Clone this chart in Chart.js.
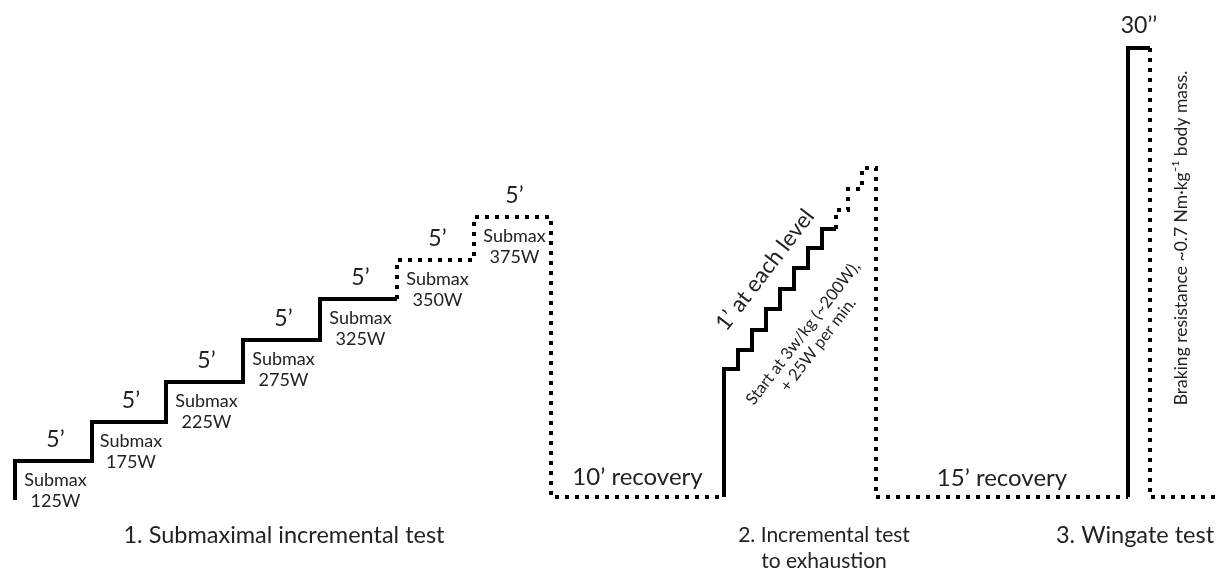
<!DOCTYPE html>
<html>
<head>
<meta charset="utf-8">
<script src="https://cdn.jsdelivr.net/npm/chart.js@4"></script>
<style>
  body { margin: 0; background: #fff; }
</style>
</head>
<body>
<canvas id="chart" width="1219" height="576"></canvas>
<script>
// schematic units: time along x, work-load level (above resting line) along y

// 1. submaximal incremental test
const stage1Watts = ["125W", "175W", "225W", "275W", "325W", "350W", "375W"];
const stage1Start = [15, 92, 166, 243, 320, 397, 474];
const stage1End = 551;
const stage1Level = [36, 75, 115, 157, 198, 237, 280];
const stage1Solid = 5; // steps drawn solid, the rest dotted
const stage1Minutes = "5’";

// 2. incremental test to exhaustion
const stage2Start = [724, 738, 752, 766, 780, 794, 808, 822, 836, 848, 862];
const stage2End = 876;
const stage2Level = [128, 147, 167, 188, 208, 229, 249, 268, 287, 308, 329];
const stage2Solid = 8;

// 3. wingate
const wingateStart = 1128;
const wingateEnd = 1150;
const wingateLevel = 449;
const restEnd = 1215;

const phaseTitles = [["1. Submaximal incremental test"], ["2. Incremental test", "to exhaustion"], ["3. Wingate test"]];
const recoveryLabels = ["10’ recovery", "15’ recovery"];

// build step polylines from the arrays
function steps(starts, end, levels, from, to) {
  const pts = [];
  for (let i = from; i < to; i++) {
    const x1 = i + 1 < starts.length ? starts[i + 1] : end;
    pts.push({ x: starts[i], y: levels[i] }, { x: x1, y: levels[i] });
  }
  return pts;
}

const solid1 = [{ x: stage1Start[0], y: -3 }].concat(steps(stage1Start, stage1End, stage1Level, 0, stage1Solid));
const dotted1 = steps(stage1Start, stage1End, stage1Level, stage1Solid - 1, stage1Level.length)
  .slice(1)
  .concat([{ x: stage1End, y: 0 }, { x: stage2Start[0], y: 0 }]);
const solid2 = [{ x: stage2Start[0], y: 0 }].concat(steps(stage2Start, stage2End, stage2Level, 0, stage2Solid));
const dotted2 = steps(stage2Start, stage2End, stage2Level, stage2Solid - 1, stage2Level.length)
  .slice(1)
  .concat([{ x: stage2End, y: 0 }, { x: wingateStart, y: 0 }]);
const solid3 = [{ x: wingateStart, y: 0 }, { x: wingateStart, y: wingateLevel }, { x: wingateEnd, y: wingateLevel }];
const dotted3 = [{ x: wingateEnd, y: wingateLevel }, { x: wingateEnd, y: 0 }, { x: restEnd, y: 0 }];

const FONT = 'Lato, "Noto Sans", sans-serif';
const INK = "#222";

const labelsPlugin = {
  id: "labels",
  afterDatasetsDraw(chart) {
    const { ctx, scales: { x, y } } = chart;
    const px = (v) => x.getPixelForValue(v);
    const py = (v) => y.getPixelForValue(v);
    ctx.save();
    ctx.fillStyle = INK;
    ctx.textAlign = "center";
    ctx.textBaseline = "middle";

    // stage 1 step labels
    stage1Start.forEach((s, i) => {
      const e = i + 1 < stage1Start.length ? stage1Start[i + 1] : stage1End;
      const cx = px((s + e) / 2 + 2);
      ctx.font = "23px " + FONT;
      ctx.fillText(stage1Minutes, cx, py(stage1Level[i] + 21));
      ctx.font = "18px " + FONT;
      ctx.fillText("Submax", cx, py(stage1Level[i] - 19));
      ctx.fillText(stage1Watts[i], cx, py(stage1Level[i] - 40));
    });

    // recoveries
    ctx.font = "24px " + FONT;
    ctx.fillText(recoveryLabels[0], px((stage1End + stage2Start[0]) / 2), py(20));
    ctx.fillText(recoveryLabels[1], px((stage2End + wingateStart) / 2), py(19));

    // wingate duration
    ctx.font = "23px " + FONT;
    ctx.fillText("30’’", px((wingateStart + wingateEnd) / 2), py(wingateLevel + 22));

    // phase titles
    const titleX = [284, 824, 1135];
    const titleSize = [23.5, 21, 23.5];
    phaseTitles.forEach((lines, i) => {
      ctx.font = titleSize[i] + "px " + FONT;
      lines.forEach((t, j) => ctx.fillText(t, px(titleX[i]), py(-38 - j * 26)));
    });

    // rotated notes on the incremental test
    const ang = -52.5 * Math.PI / 180;
    ctx.save();
    ctx.translate(px(765), py(227));
    ctx.rotate(ang);
    ctx.font = "22.5px " + FONT;
    ctx.fillText("1’ at each level", 0, 0);
    ctx.restore();

    ctx.save();
    ctx.translate(px(803), py(164));
    ctx.rotate(ang);
    ctx.font = "16.5px " + FONT;
    ctx.fillText("Start at 3w/kg (~200W),", 0, 0);
    ctx.fillText("+ 25W per min.", 0, 19);
    ctx.restore();

    // wingate note
    ctx.save();
    ctx.translate(px(1181), py(259));
    ctx.rotate(-Math.PI / 2);
    ctx.font = "17.5px " + FONT;
    ctx.fillText("Braking resistance ~0.7 Nm·kg⁻¹ body mass.", 0, 0);
    ctx.restore();

    ctx.restore();
  },
};

const solidStyle = { borderColor: "#000", borderWidth: 4, pointRadius: 0, showLine: true, fill: false, borderJoinStyle: "miter" };
const dotStyle = Object.assign({}, solidStyle, { borderDash: [4, 6] });

new Chart(document.getElementById("chart"), {
  type: "scatter",
  data: {
    datasets: [
      Object.assign({ label: "submax solid", data: solid1 }, solidStyle),
      Object.assign({ label: "submax dotted", data: dotted1 }, dotStyle),
      Object.assign({ label: "incremental solid", data: solid2 }, solidStyle),
      Object.assign({ label: "incremental dotted", data: dotted2 }, dotStyle),
      Object.assign({ label: "wingate solid", data: solid3 }, solidStyle),
      Object.assign({ label: "wingate dotted", data: dotted3 }, dotStyle),
    ],
  },
  options: {
    responsive: false,
    animation: false,
    layout: { padding: 0 },
    scales: {
      x: { type: "linear", min: 0, max: 1219, display: false },
      y: { type: "linear", min: -79, max: 497, display: false },
    },
    plugins: {
      legend: { display: false },
      tooltip: { enabled: false },
    },
  },
  plugins: [labelsPlugin],
});
</script>
</body>
</html>
